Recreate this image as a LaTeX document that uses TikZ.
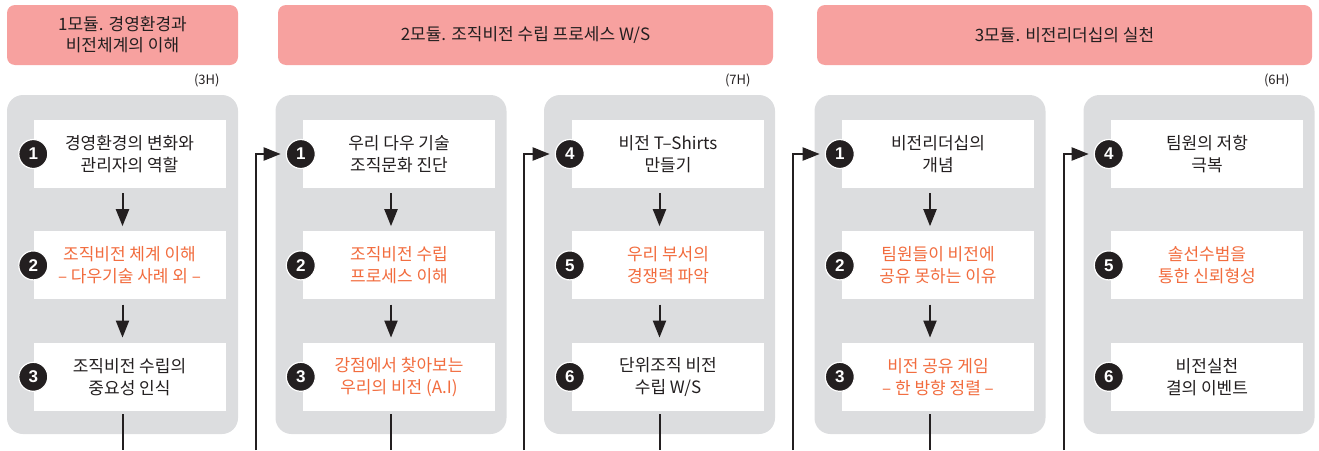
\documentclass[tikz,border=0pt]{standalone}
\usepackage{fontspec}
\setmainfont{Noto Sans CJK KR}
\newfontfamily\numfont{Liberation Sans}
\usetikzlibrary{positioning,arrows.meta}
\definecolor{headpink}{RGB}{247,161,159}
\definecolor{panelgray}{RGB}{220,221,223}
\definecolor{hotred}{RGB}{242,108,62}
\definecolor{inkdark}{RGB}{35,31,32}

\begin{document}
\begin{tikzpicture}[x=1pt, y=-1pt, >={Triangle[length=17pt,width=13pt]}, node distance=43pt,
  head/.style={fill=headpink, rounded corners=8pt, minimum height=60pt, align=center, text=inkdark, inner sep=0pt, font=\fontsize{17}{21}\selectfont},
  panel/.style={fill=panelgray, rounded corners=16pt, minimum width=231pt, minimum height=339pt},
  item/.style={fill=white, minimum width=192pt, minimum height=68pt, align=center, text=inkdark, inner sep=0pt, font=\fontsize{17}{22}\selectfont},
  hot/.style={text=hotred},
  num/.style={circle, fill=inkdark, draw=white, line width=1.2pt, minimum size=29pt, inner sep=0pt, text=white, font=\numfont\bfseries\fontsize{17}{17}\selectfont},
  hours/.style={anchor=east, text=inkdark, font=\fontsize{13}{13}\selectfont},
  flow/.style={->, line width=2pt, draw=inkdark, shorten <=5pt, shorten >=5pt},
  link/.style={line width=2pt, draw=inkdark}]
  \useasboundingbox (0,0) rectangle (1319,450);

  % Module headers
  \node[head, minimum width=231pt] (h1) at (122.5,35) {1모듈. 경영환경과\\비전체계의 이해};
  \node[head, minimum width=495pt] (h2) at (525.5,35) {2모듈. 조직비전 수립 프로세스 W/S};
  \node[head, minimum width=495pt] (h3) at (1064.5,35) {3모듈. 비전리더십의 실천};
  \node[hours] (t1) at (223,80) {(3H)};
  \node[hours] (t2) at (754,80) {(7H)};
  \node[hours] (t3) at (1293,80) {(6H)};

  % Panels
  \node[panel] (p1) at (122.5,264.5) {};
  \node[panel] (p2) at (391,264.5) {};
  \node[panel] (p3) at (659.5,264.5) {};
  \node[panel] (p4) at (930,264.5) {};
  \node[panel] (p5) at (1199,264.5) {};

  % Steps
  \node[item] (b11) at (129.5,154) {경영환경의 변화와\\관리자의 역할};
  \node[item, hot, below=of b11] (b12) {조직비전 체계 이해\\– 다우기술 사례 외 –};
  \node[item, below=of b12] (b13) {조직비전 수립의\\중요성 인식};

  \node[item] (b21) at (399,154) {우리 다우 기술\\조직문화 진단};
  \node[item, hot, below=of b21] (b22) {조직비전 수립\\프로세스 이해};
  \node[item, hot, below=of b22] (b23) {강점에서 찾아보는\\우리의 비전 (A.I)};

  \node[item] (b34) at (668,154) {비전 T–Shirts\\만들기};
  \node[item, hot, below=of b34] (b35) {우리 부서의\\경쟁력 파악};
  \node[item, below=of b35] (b36) {단위조직 비전\\수립 W/S};

  \node[item] (b41) at (938,154) {비전리더십의\\개념};
  \node[item, hot, below=of b41] (b42) {팀원들이 비전에\\공유 못하는 이유};
  \node[item, hot, below=of b42] (b43) {비전 공유 게임\\– 한 방향 정렬 –};

  \node[item] (b54) at (1207,154) {팀원의 저항\\극복};
  \node[item, hot, below=of b54] (b55) {솔선수범을\\통한 신뢰형성};
  \node[item, below=of b55] (b56) {비전실천\\결의 이벤트};

  % Numbers
  \node[num] at (b11.west) {1};
  \node[num] at (b12.west) {2};
  \node[num] at (b13.west) {3};
  \node[num] (n21) at ([xshift=-2pt]b21.west) {1};
  \node[num] at ([xshift=-2pt]b22.west) {2};
  \node[num] at ([xshift=-2pt]b23.west) {3};
  \node[num] (n34) at ([xshift=-2pt]b34.west) {4};
  \node[num] at ([xshift=-2pt]b35.west) {5};
  \node[num] at ([xshift=-2pt]b36.west) {6};
  \node[num] (n41) at ([xshift=-2pt]b41.west) {1};
  \node[num] at ([xshift=-2pt]b42.west) {2};
  \node[num] at ([xshift=-2pt]b43.west) {3};
  \node[num] (n54) at ([xshift=-2pt]b54.west) {4};
  \node[num] at ([xshift=-2pt]b55.west) {5};
  \node[num] at ([xshift=-2pt]b56.west) {6};

  % Flow inside panels
  \draw[flow] (b11.south -| p1.center) -- (b12.north -| p1.center);
  \draw[flow] (b12.south -| p1.center) -- (b13.north -| p1.center);
  \draw[flow] (b21.south -| p2.center) -- (b22.north -| p2.center);
  \draw[flow] (b22.south -| p2.center) -- (b23.north -| p2.center);
  \draw[flow] (b34.south -| p3.center) -- (b35.north -| p3.center);
  \draw[flow] (b35.south -| p3.center) -- (b36.north -| p3.center);
  \draw[flow] (b41.south -| p4.center) -- (b42.north -| p4.center);
  \draw[flow] (b42.south -| p4.center) -- (b43.north -| p4.center);

  % Links between panels
  \coordinate (out1) at (122.5,450);
  \coordinate (out2) at (391,450);
  \coordinate (out3) at (659.5,450);
  \coordinate (out4) at (930,450);
  \coordinate (in2) at (256,450);
  \coordinate (in3) at (524,450);
  \coordinate (in4) at (793,450);
  \coordinate (in5) at (1064,450);
  \draw[link, shorten <=3pt] (b13.south -| out1) -- (out1);
  \draw[link, shorten <=3pt] (b23.south -| out2) -- (out2);
  \draw[link, shorten <=3pt] (b36.south -| out3) -- (out3);
  \draw[link, shorten <=3pt] (b43.south -| out4) -- (out4);
  \draw[link, ->, shorten >=5pt] (in2) |- (n21);
  \draw[link, ->, shorten >=5pt] (in3) |- (n34);
  \draw[link, ->, shorten >=5pt] (in4) |- (n41);
  \draw[link, ->, shorten >=5pt] (in5) |- (n54);
\end{tikzpicture}
\end{document}
